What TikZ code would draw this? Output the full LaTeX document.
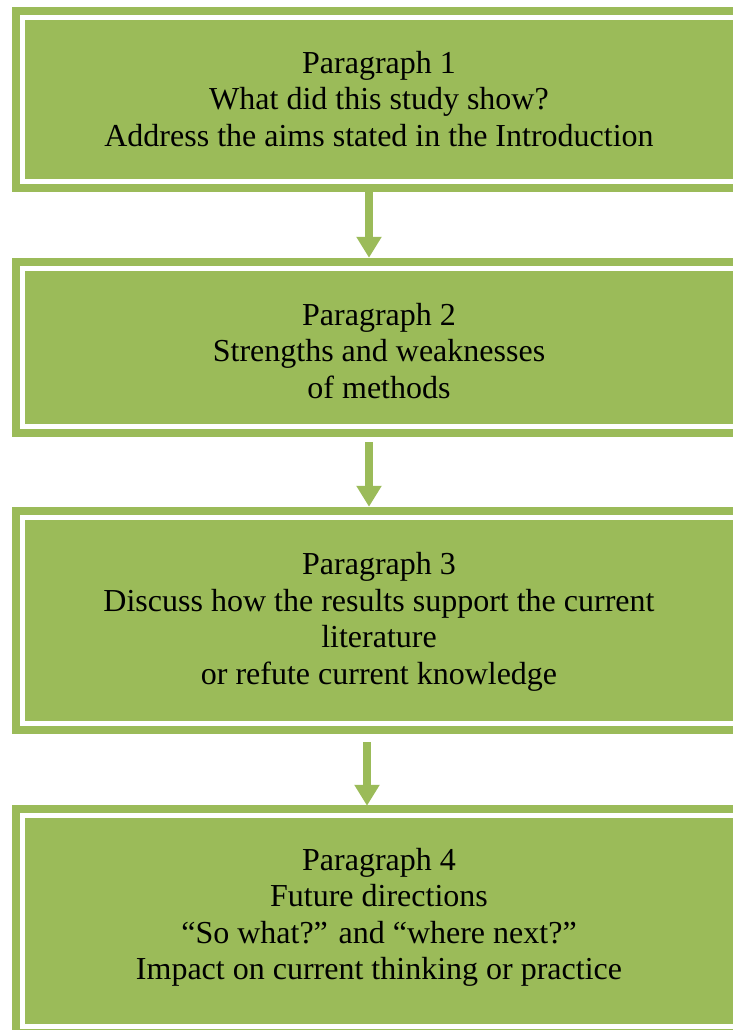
\documentclass[tikz,border=0pt]{standalone}
\usepackage{fontspec}
\setmainfont{Liberation Serif}
\usetikzlibrary{arrows.meta}
\definecolor{olive}{HTML}{9BBB59}
\tikzset{
  panel/.style={rectangle, inner sep=0pt, fill=olive, minimum width=748pt,
    path picture={\draw[white, line width=4.5pt]
      ([shift={(10.5pt,-10.5pt)}]path picture bounding box.north west) rectangle
      ([shift={(-10.5pt,10.5pt)}]path picture bounding box.south east);}},
  txt/.style={anchor=base, inner sep=0pt, font=\fontsize{32}{36.5}\selectfont},
  flow/.style={draw=olive, line width=8pt, -{Triangle[width=24pt,length=21pt]}}
}
\begin{document}
\begin{tikzpicture}[x=1pt,y=1pt]
\useasboundingbox (0,0) rectangle (733,1030);
\clip (0,0) rectangle (733,1030);
% the four paragraph panels
\node[panel, minimum height=185pt] (b1) at (386,930.5) {};
\node[panel, minimum height=179pt] (b2) at (386,682.5) {};
\node[panel, minimum height=227pt] (b3) at (386,409.5) {};
\node[panel, minimum height=232pt] (b4) at (386,109) {};
% panel 1
\node[txt] (t11) at (379,956.5) {Paragraph 1};
\node[txt] (t12) at (379,920) {What did this study show?};
\node[txt] (t13) at (379,883.5) {Address the aims stated in the Introduction};
% panel 2
\node[txt] (t21) at (379,704.5) {Paragraph 2};
\node[txt] (t22) at (379,668) {Strengths and weaknesses};
\node[txt] (t23) at (379,631.5) {of methods};
% panel 3
\node[txt] (t31) at (379,455) {Paragraph 3};
\node[txt] (t32) at (379,418.5) {Discuss how the results support the current};
\node[txt] (t33) at (379,382) {literature};
\node[txt] (t34) at (379,345.5) {or refute current knowledge};
% panel 4
\node[txt] (t41) at (379,159.5) {Paragraph 4};
\node[txt] (t42) at (379,123) {Future directions};
\node[txt] (t43) at (379,86.5) {“So what?” and “where next?”};
\node[txt] (t44) at (379,50) {Impact on current thinking or practice};
% connectors
\draw[flow] ([xshift=-17pt]b1.south) -- ([xshift=-17pt]b2.north);
\draw[flow] ([xshift=-17pt,yshift=-5pt]b2.south) -- ([xshift=-17pt]b3.north);
\draw[flow] ([xshift=-19pt,yshift=-8pt]b3.south) -- ([xshift=-19pt,yshift=-1pt]b4.north);
\end{tikzpicture}
\end{document}
